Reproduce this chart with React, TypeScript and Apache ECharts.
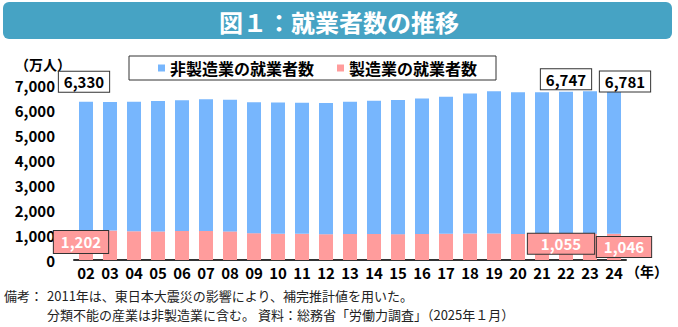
import React, { useEffect, useRef } from "react";
import * as echarts from "echarts";

const years = ["02","03","04","05","06","07","08","09","10","11","12","13","14","15","16","17","18","19","20","21","22","23","24"];
const manufacturing = [1202,1178,1150,1142,1161,1165,1144,1073,1049,1046,1032,1039,1040,1035,1045,1052,1060,1063,1045,1037,1044,1055,1046];
const nonManufacturing = [5128,5138,5179,5214,5228,5262,5265,5241,5249,5247,5248,5287,5331,5366,5420,5478,5604,5687,5665,5676,5686,5692,5735];
const yTicks = [0, 1000, 2000, 3000, 4000, 5000, 6000, 7000];

const FONT = '"Noto Sans CJK JP", "Noto Sans", sans-serif';
const BLUE = "#77b6fd";
const PINK = "#ff9c9c";

const fmt = (v: number) => v.toLocaleString("en-US");

// which points carry callout labels and their offsets
const totalLabels: Record<number, number[]> = { 0: [-2, -10], 21: [-24, -2], 22: [11, 1] };
const mfgLabels: Record<number, { off: number[]; pad: number[] }> = {
  0: { off: [-5, -3], pad: [2, 7] },
  21: { off: [-29, -3], pad: [1, 13] },
  22: { off: [10, 0], pad: [1, 7] },
};

export default function App() {
  const ref = useRef<HTMLDivElement>(null);
  useEffect(() => {
    if (!ref.current) return;
    const chart = echarts.init(ref.current, undefined, { renderer: "svg" });

    const mfgData = manufacturing.map((v, i) => {
      const l = mfgLabels[i];
      if (!l) return v;
      return {
        value: v,
        label: {
          show: true,
          position: "inside",
          offset: l.off,
          formatter: fmt(v),
          color: "#fff",
          fontFamily: FONT,
          fontWeight: "bold",
          fontSize: 15,
          lineHeight: 18,
          backgroundColor: PINK,
          borderColor: "#333",
          borderWidth: 1,
          padding: l.pad,
        },
      };
    });

    const nonData = nonManufacturing.map((v, i) => {
      const off = totalLabels[i];
      if (!off) return v;
      return {
        value: v,
        label: {
          show: true,
          position: "top",
          distance: 0,
          offset: off,
          formatter: fmt(v + manufacturing[i]),
          color: "#000",
          fontFamily: FONT,
          fontWeight: "bold",
          fontSize: 15,
          lineHeight: 18,
          backgroundColor: "#fff",
          borderColor: "#333",
          borderWidth: 1,
          padding: [1, 5],
        },
      };
    });

    const note = (text: string, x: number, y: number) => ({
      type: "text",
      x,
      y,
      style: {
        text,
        fill: "#222",
        font: `13px ${FONT}`,
        textAlign: "left",
        textVerticalAlign: "middle",
      },
    });

    chart.setOption({
      animation: false,
      textStyle: { fontFamily: FONT },
      grid: { left: 74, right: 52, top: 85, bottom: 67 },
      legend: {
        left: 129,
        top: 56,
        data: ["非製造業の就業者数", "製造業の就業者数"],
        icon: "rect",
        itemWidth: 7,
        itemHeight: 7,
        itemGap: 23,
        padding: [4, 19, 4, 29],
        borderColor: "#333",
        borderWidth: 1,
        backgroundColor: "#fff",
        textStyle: { fontFamily: FONT, fontWeight: "bold", fontSize: 16, color: "#000" },
      },
      xAxis: {
        type: "category",
        data: years,
        axisLine: { lineStyle: { color: "#333", width: 2 } },
        axisTick: { show: false },
        axisLabel: { fontFamily: FONT, fontWeight: "bold", fontSize: 15, color: "#000", margin: 5, interval: 0 },
      },
      yAxis: {
        type: "value",
        min: yTicks[0],
        max: yTicks[yTicks.length - 1],
        interval: 1000,
        splitLine: { show: false },
        axisLine: { show: false },
        axisTick: { show: false },
        axisLabel: {
          fontFamily: FONT,
          fontWeight: "bold",
          fontSize: 15,
          color: "#000",
          margin: 19,
          formatter: (v: number) => fmt(v),
        },
      },
      series: [
        {
          name: "製造業の就業者数",
          type: "bar",
          stack: "total",
          barWidth: 14,
          itemStyle: { color: PINK },
          data: mfgData,
          z: 2,
        },
        {
          name: "非製造業の就業者数",
          type: "bar",
          stack: "total",
          barWidth: 14,
          itemStyle: { color: BLUE },
          data: nonData,
          z: 2,
        },
      ],
      graphic: [
        {
          type: "rect",
          shape: { x: 3, y: 2, width: 669, height: 37, r: 6 },
          style: { fill: "#46a3c4" },
          silent: true,
        },
        {
          type: "text",
          x: 339,
          y: 21,
          style: {
            text: "図１：就業者数の推移",
            fill: "#fff",
            font: `bold 24px ${FONT}`,
            textAlign: "center",
            textVerticalAlign: "middle",
          },
        },
        {
          type: "text",
          x: 15,
          y: 64,
          style: {
            text: "（万人）",
            fill: "#000",
            font: `bold 14px ${FONT}`,
            textAlign: "left",
            textVerticalAlign: "middle",
          },
        },
        {
          type: "text",
          x: 626,
          y: 271,
          style: {
            text: "（年）",
            fill: "#000",
            font: `bold 14px ${FONT}`,
            textAlign: "left",
            textVerticalAlign: "middle",
          },
        },
        note("備考：", 4, 295.5),
        note("2011年は、東日本大震災の影響により、補完推計値を用いた。", 47, 295.5),
        note("分類不能の産業は非製造業に含む。 資料：総務省「労働力調査」（2025年１月）", 47, 314.5),
      ],
    });
    return () => chart.dispose();
  }, []);
  return (
    <div
      ref={ref}
      style={{ position: "fixed", left: 0, top: 0, width: 678, height: 327, background: "#fff" }}
    />
  );
}
